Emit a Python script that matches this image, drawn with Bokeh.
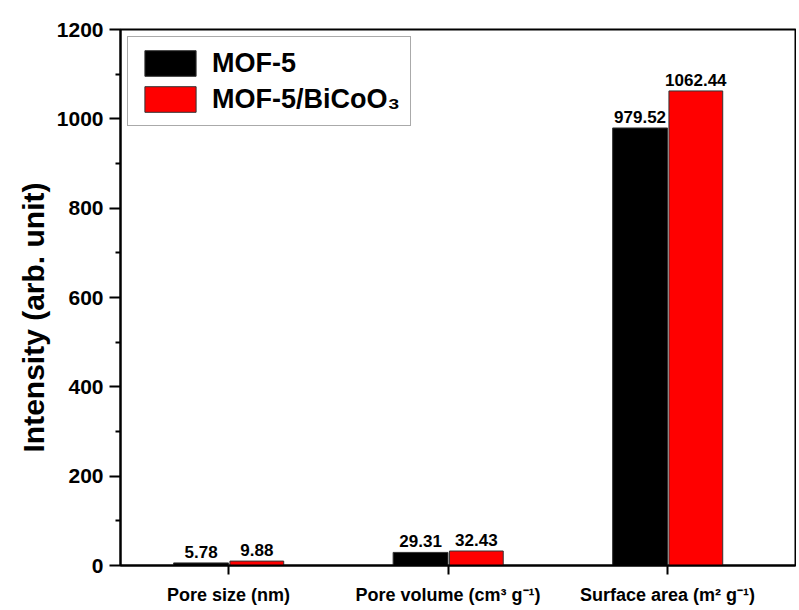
from bokeh.plotting import figure
from bokeh.models import ColumnDataSource, FixedTicker, Legend, LegendItem, LabelSet, Title
from bokeh.transform import dodge
from bokeh.core.properties import value
from bokeh.embed import file_html
from bokeh.resources import INLINE

categories = ["Pore size (nm)", "Pore volume (cm\u00b3 g\u207b\u00b9)", "Surface area (m\u00b2 g\u207b\u00b9)"]
mof5 = [5.78, 29.31, 979.52]
mof5_bicoo3 = [9.88, 32.43, 1062.44]
series_names = ["MOF-5", "MOF-5/BiCoO\u2083"]
y_ticks = [0, 200, 400, 600, 800, 1000, 1200]
y_minor_ticks = [100, 300, 500, 700, 900, 1100]
y_label = "Intensity (arb. unit)"

FONT = "Liberation Sans"
xs = list(range(len(categories)))
src = ColumnDataSource(dict(
    x=xs, a=mof5, b=mof5_bicoo3,
    la=[f"{v:.2f}" for v in mof5], lb=[f"{v:.2f}" for v in mof5_bicoo3],
))

p = figure(width=796, height=610, x_range=(-0.492, 2.583), y_range=(0, 1200),
           output_backend="svg", toolbar_location=None,
           min_border_left=120, min_border_top=29, min_border_bottom=45, min_border_right=1)
p.background_fill_color = "white"
p.border_fill_color = "white"
p.grid.visible = False
p.outline_line_color = "black"
p.outline_line_width = 2

r1 = p.vbar(x=dodge("x", -0.125, range=p.x_range), top="a", width=0.25, source=src,
            fill_color="black", line_color="#333333", line_width=1)
r2 = p.vbar(x=dodge("x", 0.129, range=p.x_range), top="b", width=0.245, source=src,
            fill_color="#ff0000", line_color="#333333", line_width=1)

for col, lab, off in (("a", "la", -0.125), ("b", "lb", 0.129)):
    ls = LabelSet(x=dodge("x", off, range=p.x_range), y=col, text=lab, source=src,
                  text_align="center", text_baseline="bottom", y_offset=5,
                  text_font=value(FONT), text_font_style="bold", text_font_size="17px",
                  text_color="black")
    p.add_layout(ls)

p.xaxis.ticker = FixedTicker(ticks=xs)
p.xaxis.major_label_overrides = {i: c for i, c in enumerate(categories)}
p.xaxis.minor_tick_line_color = None
p.xaxis.major_tick_in = 0
p.xaxis.major_tick_out = 9
p.xaxis.major_label_standoff = 10
p.xaxis.major_label_text_font = FONT
p.xaxis.major_label_text_font_style = "bold"
p.xaxis.major_label_text_font_size = "18px"

p.yaxis.ticker = FixedTicker(ticks=y_ticks, minor_ticks=y_minor_ticks)
p.yaxis.major_tick_in = 0
p.yaxis.major_tick_out = 11
p.yaxis.minor_tick_in = 0
p.yaxis.minor_tick_out = 5
p.yaxis.major_label_text_font = FONT
p.yaxis.major_label_text_font_style = "bold"
p.yaxis.major_label_text_font_size = "21px"
p.yaxis.major_label_standoff = 6

for ax in (p.xaxis, p.yaxis):
    ax.axis_line_width = 2
    ax.axis_line_color = "black"
    ax.major_tick_line_width = 2
    ax.minor_tick_line_width = 2
    ax.major_label_text_color = "black"

ylab = Title(text=y_label, align="left", offset=113, standoff=8,
             text_font=FONT, text_font_style="bold", text_font_size="30px",
             text_color="black")
p.add_layout(ylab, "left")

legend = Legend(items=[LegendItem(label=series_names[0], renderers=[r1]),
                       LegendItem(label=series_names[1], renderers=[r2])],
                location="top_left")
legend.glyph_width = 64
legend.glyph_height = 32
legend.label_text_font = FONT
legend.label_text_font_style = "bold"
legend.label_text_font_size = "27px"
legend.label_text_color = "black"
legend.label_standoff = 10
legend.label_height = 32
legend.spacing = 4
legend.padding = 10
legend.margin = 7
legend.border_line_color = "#555555"
legend.border_line_width = 1
legend.background_fill_alpha = 1
p.add_layout(legend)

open("out.html", "w").write(file_html(p, INLINE))
